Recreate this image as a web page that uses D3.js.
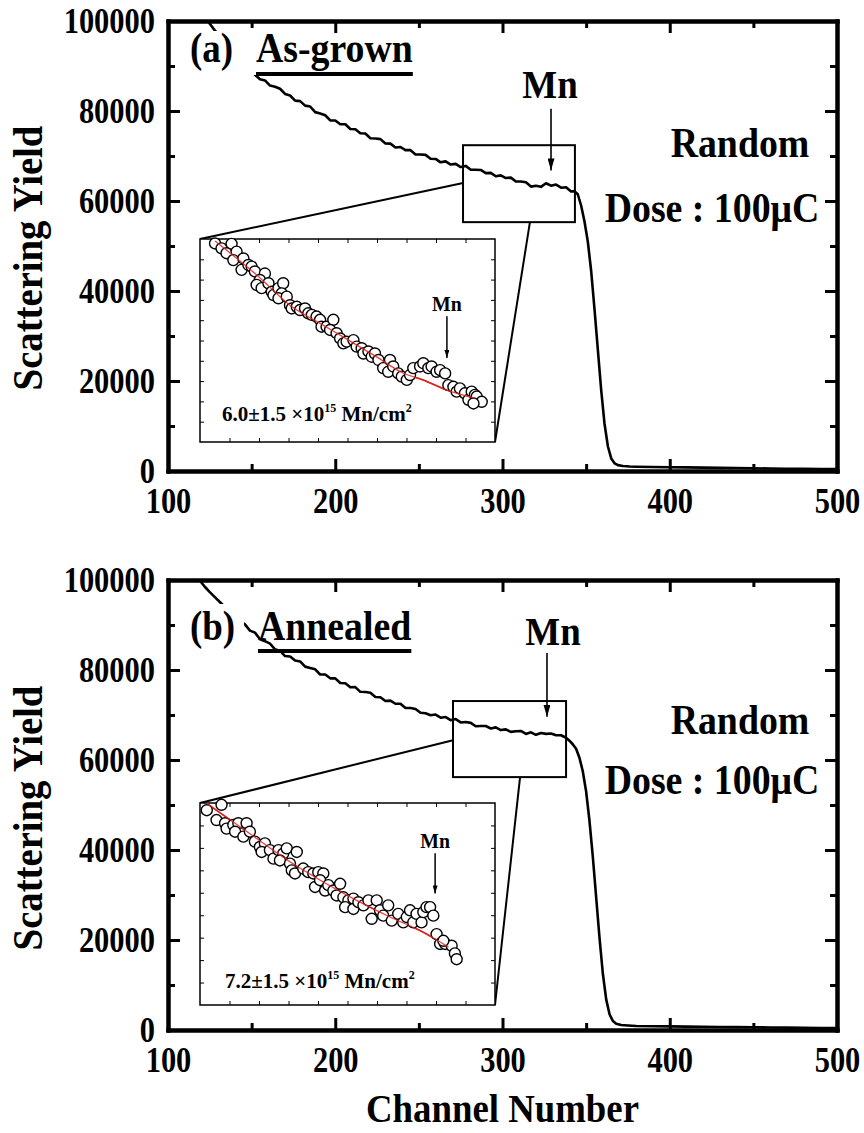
<!DOCTYPE html>
<html><head><meta charset="utf-8">
<script src="https://cdn.jsdelivr.net/npm/d3@7"></script>
<style>
body{margin:0;background:#fff}
svg text{font-family:"Liberation Serif","Times New Roman",serif;font-weight:bold;fill:#000}
</style></head>
<body><svg id="c" width="864" height="1133"></svg>
<script>
// ---------------- DATA ----------------
const xMajorTicks = [100, 200, 300, 400, 500];
const xMinorTicks = [150, 250, 350, 450];
const yMajorTicks = [0, 20000, 40000, 60000, 80000, 100000];
const yMinorTicks = [10000, 30000, 50000, 70000, 90000];

// (a) As-grown random spectrum
const topChannels = [122,125,128,131,134,137,140,143,146,149,152,155,158,161,164,167,170,173,176,179,182,185,188,191,194,197,200,203,206,209,212,215,218,221,224,227,230,233,236,239,242,245,248,251,254,257,260,263,266,269,272,275,278,281,284,287,290,293,296,299,302,305,308,311,314,317,320,323,326,329,332,335,338,341,343,345,347,349,351,353,355,357,359,361,363,365,367,369,372,376,380,390,400,410,420,430,440,450,460,470,480,490,500];
const topCounts = [101200,99400,97900,96600,95100,94000,92600,91700,90300,89500,88050,87050,86800,85650,85400,84950,83800,83450,82300,82200,81200,81000,79750,79450,79050,77900,77900,77050,77050,76000,75950,75050,75000,73950,73900,73750,72800,72750,71900,72000,71300,71300,70350,70350,70250,69400,69350,68600,68800,68100,68250,67550,67800,66950,66950,66900,66200,66250,65500,65700,65100,65200,64350,64350,64150,63200,63400,63150,63950,63400,63650,62950,63050,62100,62200,61500,59000,55500,51000,44500,36000,27000,18000,10500,5500,2800,1700,1300,1100,1000,950,900,850,800,750,700,650,600,550,500,480,450,420];

// (b) Annealed random spectrum
const botChannels = [116,119,122,125,128,131,134,137,140,143,146,149,152,155,158,161,164,167,170,173,176,179,182,185,188,191,194,197,200,203,206,209,212,215,218,221,224,227,230,233,236,239,242,245,248,251,254,257,260,263,266,269,272,275,278,281,284,287,290,293,296,299,302,305,308,311,314,317,320,323,326,329,332,335,338,340,342,344,346,348,350,352,354,356,358,360,362,364,366,368,371,375,380,390,400,410,420,430,440,450,460,470,480,490,500];
const botCounts = [101500,99900,98500,97300,96200,95100,94000,92900,91900,90900,90150,88750,88300,86850,86400,85850,84600,84250,83100,83000,82100,81900,80750,80450,80150,79000,79000,78150,78150,77100,77050,76150,76200,75150,75100,74950,74000,73950,73100,73200,72500,72500,71550,71550,71350,70500,70400,69950,70100,69400,69550,68850,69100,68350,68450,68250,67500,67550,67550,67000,67250,66650,66800,66250,66400,66450,65800,66150,65600,66000,65800,65900,65500,65500,64950,64300,63500,62500,60500,57500,53000,46500,38500,29500,20500,12500,6800,3500,2000,1400,1100,1000,900,850,800,760,720,680,640,600,560,520,490,460,430];

// Inset (a): zoomed points (relative channel 0-100, counts) and fit
const insetTopX = [5.1,7.3,10.7,9.0,12.4,11.3,14.7,14.1,16.4,17.5,18.6,22.0,20.3,19.2,20.9,23.2,24.3,24.9,26.6,28.2,27.7,26.6,29.4,30.5,31.1,32.8,33.9,35.6,36.7,37.9,39.5,40.7,41.2,42.9,45.2,44.1,46.3,47.5,48.6,49.7,52.0,53.1,54.8,55.4,57.1,58.2,59.3,60.5,62.1,63.8,64.4,65.5,67.2,68.4,70.1,71.2,72.3,74.6,75.7,77.4,78.5,80.2,81.4,83.1,84.2,85.9,87.0,88.1,89.8,91.0,92.1,93.2,93.8,95.5,92.7];
const insetTopY = [65890,65770,65880,65650,65690,65480,65520,65240,65360,65320,65200,65150,64990,64870,64790,64910,64700,64620,64790,64910,64660,64540,64580,64370,64290,64330,64250,64290,64170,64130,64090,64010,63840,63840,64010,63760,63680,63550,63430,63470,63510,63350,63310,63180,63230,63100,63180,63020,62820,62730,63020,62860,62690,62610,62530,62650,62820,62860,62940,62820,62860,62730,62770,62690,62400,62360,62240,62320,62200,62040,62240,62160,62120,61990,61950];
const fitTopX = [5.1,19.3,30.5,41.7,48.5,60,68.8,75.6,83.7,93.2];
const fitTopY = [65950,65110,64370,63880,63590,63090,62700,62530,62280,62080];

// Inset (b)
const insetBotX = [2.3,7.3,5.6,8.5,9.0,11.3,13.0,15.8,11.9,14.7,16.9,18.6,20.3,22.0,20.9,23.7,24.9,26.6,28.2,29.4,27.1,30.5,32.8,31.1,32.2,35.0,36.7,38.4,40.1,41.8,39.0,40.7,42.4,43.5,45.2,47.5,46.3,48.6,50.3,52.0,49.2,52.0,53.7,55.4,57.1,59.9,58.2,61.0,62.1,63.8,65.0,67.2,68.9,70.1,71.2,72.3,73.4,75.1,75.7,76.8,78.0,79.1,80.2,81.4,83.1,85.3,86.4,87.0,82.5];
const insetBotY = [65840,65960,65620,65550,65430,65510,65550,65550,65360,65250,65360,65140,65020,65100,64910,64950,64760,64950,64870,64990,64720,64650,64910,64500,64430,64540,64460,64430,64460,64430,64130,64280,64050,64170,64050,64200,63940,63900,63830,63870,63680,63640,63790,63720,63830,63830,63420,63610,63490,63720,63380,63530,63340,63460,63610,63340,63530,63340,63570,63680,63680,63490,63080,62860,62860,62820,62650,62520,62930];
const fitBotX = [2.3,19.2,30.5,41.8,53.1,64.4,75.7,84.2];
const fitBotY = [65990,65210,64690,64240,63830,63460,63120,62790];

// ---------------- LAYOUT ----------------
const svg = d3.select('#c');
const X0 = 168, X1 = 837;
const FONT = '"Liberation Serif","Times New Roman",serif';

function condense(sel, f){
  sel.each(function(){
    const L = this.getComputedTextLength();
    d3.select(this).attr('textLength', L*f).attr('lengthAdjust','spacingAndGlyphs');
  });
  return sel;
}

const defs = svg.append('defs');
function marker(id, len, wid){
  defs.append('marker').attr('id', id).attr('viewBox', `0 0 ${len} ${wid}`)
    .attr('refX', len).attr('refY', wid/2).attr('markerWidth', len).attr('markerHeight', wid)
    .attr('markerUnits', 'userSpaceOnUse').attr('orient', 'auto')
    .append('path').attr('d', `M0,0 L${len},${wid/2} L0,${wid} Z`).attr('fill', '#000');
}
marker('arrBig', 12, 7);
marker('arrSmall', 8, 5);

const panels = [
  { id:'a', top:21, bottom:471, ch:topChannels, ct:topCounts, tag:'(a)', name:'As-grown',
    tagX:190, nameX:256, labelBase:62, underlineY:74, tagBox:[186,31,66,39], nameBox:[250,31,170,44],
    box:{x0:276.4, x1:343.3, y0:55300, y1:72400},
    conn:[[276.4,64000],[316.4,55300]],
    inset:{l:200, t:239, r:495, b:442, yDom:[61000,66000], yStep:500,
      px:insetTopX, py:insetTopY, fx:fitTopX, fy:fitTopY, note:['6.0±1.5 ×10','15',' Mn/cm','2'], noteX:222, noteY:421,
      mn:{x:83.7, y0:64100, y1:63070, ty:64420}},
    mn:{ch:329, v0:80500, v1:66800, tx:550, ty:98},
    random:[740,157], dose:[712,222], ytitleY:258 },
  { id:'b', top:580, bottom:1030, ch:botChannels, ct:botCounts, tag:'(b)', name:'Annealed',
    tagX:190, nameX:258, labelBase:640, underlineY:651, tagBox:[186,604,58,46], nameBox:[0,0,0,0],
    box:{x0:270.4, x1:338, y0:56200, y1:73100},
    conn:[[270.4,64400],[310.5,56200]],
    inset:{l:200, t:803, r:495, b:1005, yDom:[61500,66000], yStep:500,
      px:insetBotX, py:insetBotY, fx:fitBotX, fy:fitBotY, note:['7.2±1.5 ×10','15',' Mn/cm','2'], noteX:225, noteY:988,
      mn:{x:79.7, y0:64880, y1:63985, ty:65170}},
    mn:{ch:326.6, v0:83800, v1:69600, tx:553, ty:645},
    random:[740,734], dose:[712,794], ytitleY:818 }
];

panels.forEach(p => {
  const x = d3.scaleLinear().domain([100,500]).range([X0,X1]);
  const y = d3.scaleLinear().domain([0,100000]).range([p.bottom,p.top]);
  const g = svg.append('g');

  defs.append('clipPath').attr('id','clip'+p.id).append('rect')
    .attr('x',X0).attr('y',p.top).attr('width',X1-X0).attr('height',p.bottom-p.top);

  // spectrum
  const line = d3.line().x((d,i)=>x(p.ch[i])).y(d=>y(d));
  g.append('path').datum(p.ct).attr('d',line).attr('clip-path',`url(#clip${p.id})`)
    .attr('fill','none').attr('stroke','#000').attr('stroke-width',2.6).attr('stroke-linejoin','round');

  // panel label with white background
  g.append('rect').attr('x',p.tagBox[0]).attr('y',p.tagBox[1]).attr('width',p.tagBox[2]).attr('height',p.tagBox[3]).attr('fill','#fff');
  if (p.nameBox[2]>0) g.append('rect').attr('x',p.nameBox[0]).attr('y',p.nameBox[1]).attr('width',p.nameBox[2]).attr('height',p.nameBox[3]).attr('fill','#fff');
  condense(g.append('text').attr('x',p.tagX).attr('y',p.labelBase).attr('font-size',42).text(p.tag), 0.88);
  const nm = condense(g.append('text').attr('x',p.nameX).attr('y',p.labelBase).attr('font-size',42).text(p.name), 0.9);
  const nw = +nm.attr('textLength');
  g.append('rect').attr('x',p.nameX).attr('y',p.underlineY-2).attr('width',nw).attr('height',4).attr('fill','#000');

  // zoom box
  g.append('rect').attr('x',x(p.box.x0)).attr('y',y(p.box.y1))
    .attr('width',x(p.box.x1)-x(p.box.x0)).attr('height',y(p.box.y0)-y(p.box.y1))
    .attr('fill','none').attr('stroke','#000').attr('stroke-width',2);

  const ins = p.inset;
  g.append('line').attr('x1',x(p.conn[0][0])).attr('y1',y(p.conn[0][1])).attr('x2',ins.l).attr('y2',ins.t)
    .attr('stroke','#000').attr('stroke-width',2);
  g.append('line').attr('x1',x(p.conn[1][0])).attr('y1',y(p.conn[1][1])).attr('x2',ins.r).attr('y2',ins.b)
    .attr('stroke','#000').attr('stroke-width',2);

  // inset
  const ix = d3.scaleLinear().domain([0,100]).range([ins.l,ins.r]);
  const iy = d3.scaleLinear().domain(ins.yDom).range([ins.b,ins.t]);
  const ig = g.append('g');
  ig.append('rect').attr('x',ins.l).attr('y',ins.t).attr('width',ins.r-ins.l).attr('height',ins.b-ins.t)
    .attr('fill','#fff').attr('stroke','#000').attr('stroke-width',1.5);
  const ixT = d3.range(10,100,10);
  const iyT = d3.range(ins.yDom[0]+ins.yStep, ins.yDom[1], ins.yStep);
  [[d3.axisBottom(ix),ins.b],[d3.axisTop(ix),ins.t]].forEach(([ax,ty])=>{
    ig.append('g').attr('transform',`translate(0,${ty})`).call(ax.tickValues(ixT).tickSize(-4).tickFormat('')).call(s=>s.select('.domain').remove());
  });
  [[d3.axisLeft(iy),ins.l],[d3.axisRight(iy),ins.r]].forEach(([ax,tx])=>{
    ig.append('g').attr('transform',`translate(${tx},0)`).call(ax.tickValues(iyT).tickSize(-4).tickFormat('')).call(s=>s.select('.domain').remove());
  });
  ig.selectAll('.tick line').attr('stroke','#000').attr('stroke-width',1);
  const fitLine = d3.line().x((d,i)=>ix(ins.fx[i])).y(d=>iy(d)).curve(d3.curveMonotoneX);
  ig.append('path').datum(ins.fy).attr('d', fitLine).attr('fill','none').attr('stroke','#e3211c').attr('stroke-width',1.6);
  ig.selectAll('circle.pt').data(ins.py).enter().append('circle').attr('class','pt')
    .attr('cx',(d,i)=>ix(ins.px[i])).attr('cy',d=>iy(d)).attr('r',5.5)
    .attr('fill','#fff').attr('stroke','#000').attr('stroke-width',1.4);
  ig.append('path').datum(ins.fy).attr('d', fitLine).attr('fill','none').attr('stroke','#e3211c').attr('stroke-width',1.3).attr('opacity',0.85);
  condense(ig.append('text').attr('x',ix(ins.mn.x)).attr('y',iy(ins.mn.ty)).attr('dy','0.35em').attr('text-anchor','middle').attr('font-size',22).text('Mn'), 0.9);
  ig.append('line').attr('x1',ix(ins.mn.x)).attr('x2',ix(ins.mn.x)).attr('y1',iy(ins.mn.y0)).attr('y2',iy(ins.mn.y1))
    .attr('stroke','#000').attr('stroke-width',1.5).attr('marker-end','url(#arrSmall)');
  const nt = ig.append('text').attr('x',ins.noteX).attr('y',ins.noteY).attr('font-size',21);
  nt.append('tspan').text(ins.note[0]);
  nt.append('tspan').attr('font-size',12).attr('dy',-9).text(ins.note[1]);
  nt.append('tspan').attr('dy',9).text(ins.note[2]);
  nt.append('tspan').attr('font-size',12).attr('dy',-9).text(ins.note[3]);

  // main Mn arrow
  condense(g.append('text').attr('x',p.mn.tx).attr('y',p.mn.ty).attr('text-anchor','middle').attr('font-size',41).text('Mn'), 0.9);
  g.append('line').attr('x1',x(p.mn.ch)).attr('x2',x(p.mn.ch)).attr('y1',y(p.mn.v0)).attr('y2',y(p.mn.v1))
    .attr('stroke','#000').attr('stroke-width',1.6).attr('marker-end','url(#arrBig)');

  condense(g.append('text').attr('x',p.random[0]).attr('y',p.random[1]).attr('text-anchor','middle').attr('font-size',42).text('Random'), 0.9);
  condense(g.append('text').attr('x',p.dose[0]).attr('y',p.dose[1]).attr('text-anchor','middle').attr('font-size',42).text('Dose : 100μC'), 0.9);

  // axes
  const ag = g.append('g');
  const fmt = d3.format('d');
  ag.append('g').attr('transform',`translate(0,${p.bottom})`)
    .call(d3.axisBottom(x).tickValues(xMajorTicks).tickSize(-12).tickSizeOuter(0).tickPadding(17).tickFormat(fmt));
  ag.append('g').attr('transform',`translate(0,${p.bottom})`)
    .call(d3.axisBottom(x).tickValues(xMinorTicks).tickSize(-7).tickSizeOuter(0).tickFormat(''));
  ag.append('g').attr('transform',`translate(0,${p.top})`)
    .call(d3.axisTop(x).tickValues(xMajorTicks).tickSize(-12).tickSizeOuter(0).tickFormat(''));
  ag.append('g').attr('transform',`translate(0,${p.top})`)
    .call(d3.axisTop(x).tickValues(xMinorTicks).tickSize(-7).tickSizeOuter(0).tickFormat(''));
  ag.append('g').attr('transform',`translate(${X0},0)`)
    .call(d3.axisLeft(y).tickValues(yMajorTicks).tickSize(-12).tickSizeOuter(0).tickPadding(13).tickFormat(fmt));
  ag.append('g').attr('transform',`translate(${X0},0)`)
    .call(d3.axisLeft(y).tickValues(yMinorTicks).tickSize(-7).tickSizeOuter(0).tickFormat(''));
  ag.append('g').attr('transform',`translate(${X1},0)`)
    .call(d3.axisRight(y).tickValues(yMajorTicks).tickSize(-12).tickSizeOuter(0).tickFormat(''));
  ag.append('g').attr('transform',`translate(${X1},0)`)
    .call(d3.axisRight(y).tickValues(yMinorTicks).tickSize(-7).tickSizeOuter(0).tickFormat(''));
  ag.selectAll('.domain').attr('stroke','#000').attr('stroke-width',4).attr('stroke-linecap','square');
  ag.selectAll('.tick line').attr('stroke','#000').attr('stroke-width',3);
  ag.selectAll('g').attr('font-family',FONT).attr('font-size',35);
  ag.selectAll('.tick text').attr('font-weight','bold').attr('fill','#000');
  condense(ag.selectAll('.tick text'), 0.87);

  condense(g.append('text').attr('transform',`translate(42,${p.ytitleY}) rotate(-90)`).attr('text-anchor','middle')
    .attr('font-size',43).text('Scattering Yield'), 0.9);
});

condense(svg.append('text').attr('x',(X0+X1)/2).attr('y',1122).attr('text-anchor','middle').attr('font-size',40).text('Channel Number'), 0.92);
</script>
</body></html>
